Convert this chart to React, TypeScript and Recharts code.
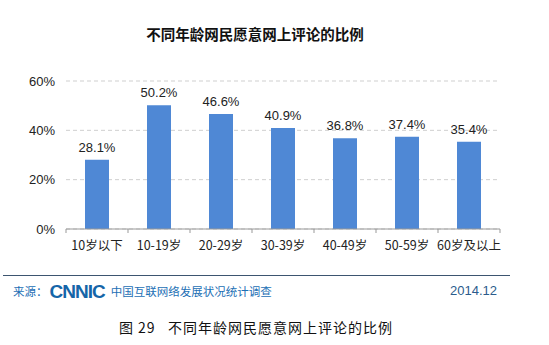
import { BarChart, Bar, XAxis, YAxis, CartesianGrid, LabelList } from "recharts"

const ageGroups = ["10岁以下", "10-19岁", "20-29岁", "30-39岁", "40-49岁", "50-59岁", "60岁及以上"]
const commentShare = [28.1, 50.2, 46.6, 40.9, 36.8, 37.4, 35.4]
const yTicks = [0, 20, 40, 60]

const data = ageGroups.map((age, i) => ({ age, value: commentShare[i] }))

const W = 549
const H = 345
const PLOT_LEFT = 66
const PLOT_RIGHT = 500
const BAND = (PLOT_RIGHT - PLOT_LEFT) / ageGroups.length
const CJK = '"Noto Sans CJK SC", "Noto Sans", sans-serif'
const LATIN = '"Liberation Sans", Arial, sans-serif'

const AgeTick = (props: any) => {
  const { x, y, payload, index } = props
  const half = BAND / 2
  return (
    <g>
      <line x1={x - half} x2={x - half} y1={y} y2={y + 4} stroke="#999" />
      {index === ageGroups.length - 1 && (
        <line x1={x + half} x2={x + half} y1={y} y2={y + 4} stroke="#999" />
      )}
      <text
        x={x}
        y={y + 15}
        textAnchor="middle"
        dominantBaseline="central"
        fontSize={12.5}
        fill="#222"
        fontFamily={CJK}
      >
        {payload.value}
      </text>
    </g>
  )
}

export default function App() {
  return (
    <div style={{ position: "absolute", left: 0, top: 0, width: W, height: H, background: "#fff" }}>
      <div
        style={{
          position: "absolute",
          left: 0,
          width: 510,
          top: 23,
          textAlign: "center",
          fontFamily: CJK,
          fontWeight: 700,
          fontSize: 14.5,
          color: "#111",
          lineHeight: "22px",
        }}
      >
        不同年龄网民愿意网上评论的比例
      </div>

      <div style={{ position: "absolute", left: 0, top: 0 }}>
        <BarChart
          width={W}
          height={H}
          data={data}
          margin={{ top: 81, right: W - PLOT_RIGHT, bottom: 86, left: 0 }}
        >
          <CartesianGrid vertical={false} stroke="#cfcfcf" strokeDasharray="4 3" />
          <XAxis
            dataKey="age"
            height={30}
            tickSize={0}
            tickMargin={0}
            tickLine={false}
            axisLine={{ stroke: "#999" }}
            tick={<AgeTick />}
            interval={0}
          />
          <YAxis
            width={PLOT_LEFT}
            domain={[0, 60]}
            ticks={yTicks}
            axisLine={false}
            tickLine={false}
            tickSize={0}
            tickMargin={11}
            tickFormatter={(v: number) => `${v}%`}
            tick={{ fontSize: 13, fill: "#222", fontFamily: LATIN }}
          />
          <Bar dataKey="value" fill="#4F88D5" barSize={24} isAnimationActive={false}>
            <LabelList
              dataKey="value"
              position="top"
              offset={8}
              formatter={(v: any) => `${Number(v).toFixed(1)}%`}
              style={{ fontSize: 13, fill: "#222", fontFamily: LATIN }}
            />
          </Bar>
        </BarChart>
      </div>

      <div style={{ position: "absolute", left: 3, width: 507, top: 275, height: 1, background: "#3D5570" }} />

      <div
        style={{
          position: "absolute",
          left: 13,
          top: 282,
          fontFamily: CJK,
          fontSize: 11.5,
          color: "#1C6FB5",
          lineHeight: "18px",
          whiteSpace: "nowrap",
        }}
      >
        来源：
        <span
          style={{
            fontFamily: LATIN,
            fontWeight: 900,
            fontSize: 19,
            letterSpacing: -1,
            color: "#1565A8",
            margin: "0 6px 0 2px",
            verticalAlign: "-2px",
          }}
        >
          CNNIC
        </span>
        中国互联网络发展状况统计调查
      </div>

      <div
        style={{
          position: "absolute",
          right: 52,
          top: 282,
          fontFamily: LATIN,
          fontSize: 13,
          color: "#2B5C8C",
          lineHeight: "18px",
        }}
      >
        2014.12
      </div>

      <div
        style={{
          position: "absolute",
          left: 0,
          width: 512,
          top: 317,
          textAlign: "center",
          fontFamily: CJK,
          fontSize: 14,
          letterSpacing: 1,
          color: "#111",
          lineHeight: "20px",
          whiteSpace: "pre",
        }}
      >
        {"图 29   不同年龄网民愿意网上评论的比例"}
      </div>
    </div>
  )
}
